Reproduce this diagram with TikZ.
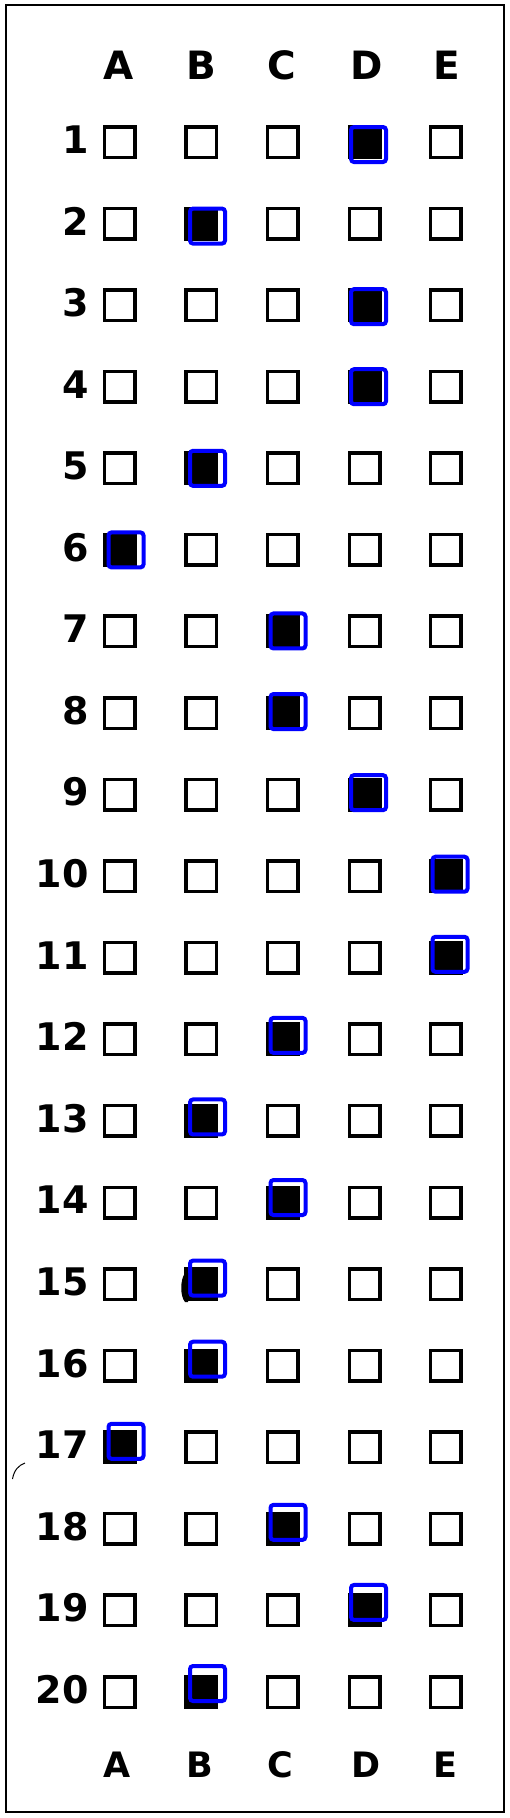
\documentclass[tikz,border=0pt]{standalone}
\usepackage{fontspec}
\setmainfont{DejaVu Sans}
\begin{document}
\begin{tikzpicture}[x=1pt,y=-1pt,
  cell/.style={draw=black,line width=3.5pt,minimum size=30.5pt,inner sep=0pt,outer sep=0pt},
  filled/.style={cell,fill=black},
  selmark/.style={draw=blue,line width=4pt,minimum size=35pt,inner sep=0pt,rounded corners=3pt},
  head/.style={inner sep=0pt,font=\fontsize{39}{41}\selectfont\bfseries},
  foot/.style={inner sep=0pt,font=\fontsize{35}{37}\selectfont\bfseries},
  num/.style={inner sep=0pt,anchor=east,font=\fontsize{38}{40}\selectfont\bfseries}]
\useasboundingbox (0,0) rectangle (509,1818);
\fill[white] (0,0) rectangle (509,1818);
\draw[line width=1.2pt] (6,5) rectangle (504,1812);
% headers
\foreach \c/\x in {A/119,B/201,C/282,D/367,E/447}{
  \node[head] (top-\c) at (\x,65) {\c};
}
\foreach \c/\x in {A/117.5,B/199.5,C/280,D/366,E/445}{
  \node[foot] (bot-\c) at (\x,1765) {\c};
}
% rows: number / answer column / blue x / blue y offset
\foreach \i/\ans/\bx/\off in {1/D/368.5/2.5,2/B/207.5/2.5,3/D/368.5/1.5,4/D/368.5/0,5/B/207.5/0,
  6/A/126/0,7/C/288/-0.5,8/C/288/-1.5,9/D/368.5/-2,10/E/450/-2,11/E/450/-3.5,12/C/288/-4,
  13/B/207.5/-4,14/C/288/-5,15/B/207.5/-6,16/B/207.5/-6.5,17/A/126/-6,18/C/288/-6.5,
  19/D/368.5/-8,20/B/207.5/-8.5}{
  \pgfmathsetmacro{\yc}{142+(\i-1)*81.58}
  \node[num] (n-\i) at (89,\yc-2.5) {\i};
  \foreach \c/\x in {A/119.5,B/201,C/282.5,D/364.5,E/445.5}{
    \ifx\c\ans
      \node[filled] (box-\i-\c) at (\x,\yc) {};
    \else
      \node[cell] (box-\i-\c) at (\x,\yc) {};
    \fi
  }
  \node[selmark] (sel-\i) at (\bx,\yc+\off) {};
}
% scan marks
\fill[black] (185,1273) .. controls (180,1280) and (180,1296) .. (185,1302) -- (188,1302) -- (188,1273) -- cycle;
\draw[line width=1pt] (12.5,1479) .. controls (14,1470) and (19,1465) .. (25,1463);
\end{tikzpicture}
\end{document}
